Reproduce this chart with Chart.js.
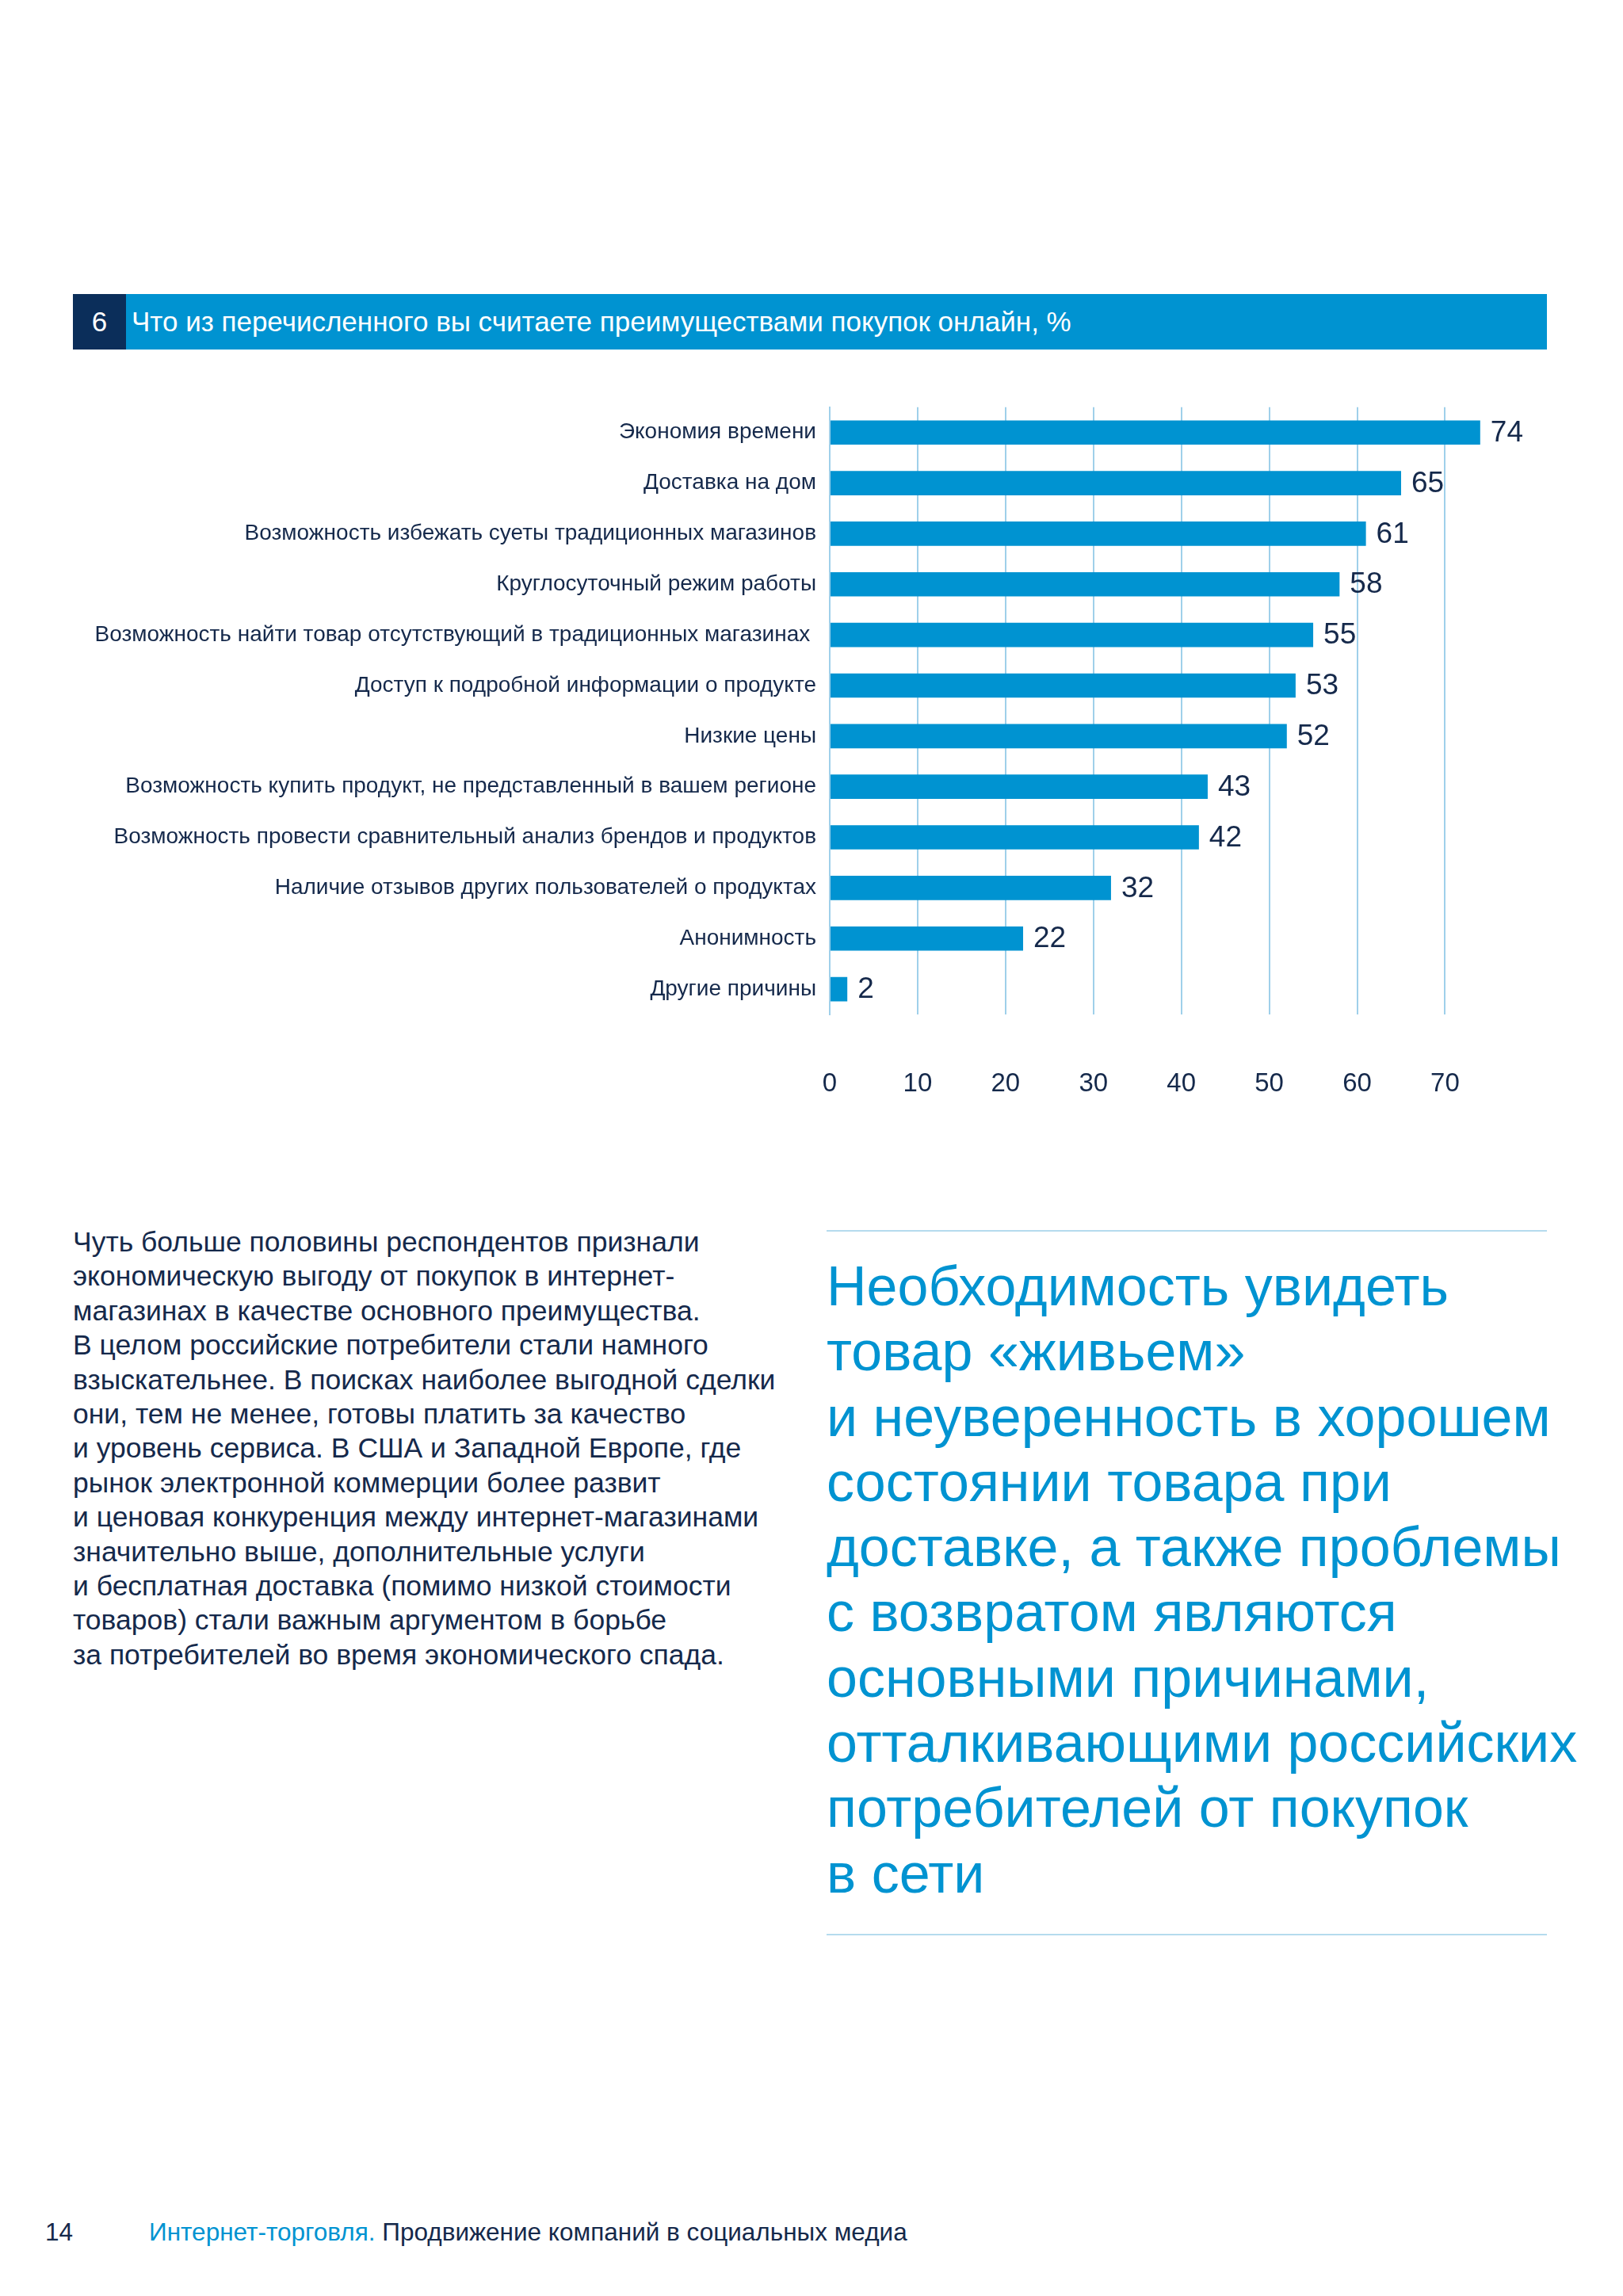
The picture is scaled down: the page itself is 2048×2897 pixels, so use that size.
<!DOCTYPE html>
<html lang="ru">
<head>
<meta charset="utf-8">
<title>Преимущества покупок онлайн</title>
<script src="https://cdn.jsdelivr.net/npm/chart.js@4/dist/chart.umd.min.js"></script>
<style>
    html, body {
        margin: 0;
        padding: 0;
        background: #ffffff;
    }
    body {
        position: relative;
        width: 2048px;
        height: 2897px;
        font-family: "Liberation Sans", Arial, sans-serif;
        color: #15294b;
        overflow: hidden;
    }
    .header {
        position: absolute;
        left: 92px;
        top: 371px;
        width: 1860px;
        height: 70px;
        background: #0093d1;
        color: #ffffff;
        font-size: 35px;
        line-height: 70px;
    }
    .header .num {
        position: absolute;
        left: 0;
        top: 0;
        width: 67px;
        height: 70px;
        background: #0b2e5a;
        text-align: center;
    }
    .header .title {
        position: absolute;
        left: 74px;
        top: 0;
    }
    .chart-box {
        position: absolute;
        left: 92px;
        top: 480px;
        width: 1860px;
        height: 920px;
    }
    .body-text {
        position: absolute;
        left: 92px;
        top: 1546px;
        font-size: 35.5px;
        line-height: 43.4px;
        white-space: nowrap;
    }
    .rule {
        position: absolute;
        left: 1043px;
        width: 909px;
        height: 2px;
        background: #b5dbee;
    }
    .quote {
        position: absolute;
        left: 1043px;
        top: 1582px;
        font-size: 70px;
        line-height: 82.3px;
        color: #0093d1;
        white-space: nowrap;
    }
    .footer {
        position: absolute;
        top: 2797px;
        font-size: 31.5px;
        line-height: 38px;
        white-space: nowrap;
    }
    .footer .blue {
        color: #0093d1;
    }
</style>
</head>
<body>
<div class="header">
    <div class="num">6</div>
    <div class="title">Что из перечисленного вы считаете преимуществами покупок онлайн, %</div>
</div>

<div class="chart-box"><canvas id="advantagesChart"></canvas></div>

<div class="body-text">
Чуть больше половины респондентов признали<br>
экономическую выгоду от покупок в интернет-<br>
магазинах в качестве основного преимущества.<br>
В целом российские потребители стали намного<br>
взыскательнее. В поисках наиболее выгодной сделки<br>
они, тем не менее, готовы платить за качество<br>
и уровень сервиса. В США и Западной Европе, где<br>
рынок электронной коммерции более развит<br>
и ценовая конкуренция между интернет-магазинами<br>
значительно выше, дополнительные услуги<br>
и бесплатная доставка (помимо низкой стоимости<br>
товаров) стали важным аргументом в борьбе<br>
за потребителей во время экономического спада.
</div>

<div class="rule" style="top: 1552px;"></div>
<div class="quote">
Необходимость увидеть<br>
товар «живьем»<br>
и неуверенность в хорошем<br>
состоянии товара при<br>
доставке, а также проблемы<br>
с возвратом являются<br>
основными причинами,<br>
отталкивающими российских<br>
потребителей от покупок<br>
в сети
</div>
<div class="rule" style="top: 2440px;"></div>

<div class="footer" style="left: 57px;">14</div>
<div class="footer" style="left: 188px;"><span class="blue">Интернет-торговля.</span> Продвижение компаний в социальных медиа</div>

<script>
const categories = [
    'Экономия времени',
    'Доставка на дом',
    'Возможность избежать суеты традиционных магазинов',
    'Круглосуточный режим работы',
    'Возможность найти товар отсутствующий в традиционных магазинах ',
    'Доступ к подробной информации о продукте',
    'Низкие цены',
    'Возможность купить продукт, не представленный в вашем регионе',
    'Возможность провести сравнительный анализ брендов и продуктов',
    'Наличие отзывов других пользователей о продуктах',
    'Анонимность',
    'Другие причины'
];
const shares = [74, 65, 61, 58, 55, 53, 52, 43, 42, 32, 22, 2];
const xTicks = [0, 10, 20, 30, 40, 50, 60, 70];

const BLUE = '#0093d1';
const NAVY = '#15294b';
const GRID = '#9fd0ea';
const FONT = '"Liberation Sans", Arial, sans-serif';

// value labels at the end of every bar
const barValues = {
    id: 'barValues',
    afterDatasetsDraw(chart) {
        const ctx = chart.ctx;
        const meta = chart.getDatasetMeta(0);
        ctx.save();
        ctx.font = '37px ' + FONT;
        ctx.fillStyle = NAVY;
        ctx.textAlign = 'left';
        ctx.textBaseline = 'middle';
        meta.data.forEach((bar, i) => {
            ctx.fillText(String(shares[i]), bar.x + 13, bar.y + 1);
        });
        ctx.restore();
    }
};

document.addEventListener('DOMContentLoaded', () => {
    const ctx = document.getElementById('advantagesChart').getContext('2d');
    new Chart(ctx, {
        type: 'bar',
        data: {
            labels: categories,
            datasets: [{
                data: shares,
                backgroundColor: BLUE,
                borderWidth: 0,
                barPercentage: 0.96,
                categoryPercentage: 0.5
            }]
        },
        options: {
            indexAxis: 'y',
            responsive: true,
            maintainAspectRatio: false,
            animation: false,
            layout: {
                padding: { top: 30, right: 62, bottom: 0, left: 0 }
            },
            plugins: {
                legend: { display: false },
                tooltip: { enabled: false }
            },
            scales: {
                x: {
                    min: 0,
                    max: 76,
                    afterBuildTicks: (scale) => {
                        scale.ticks = xTicks.map(v => ({ value: v }));
                    },
                    afterFit: (scale) => {
                        scale.height = 120;
                    },
                    grid: {
                        color: GRID,
                        lineWidth: 2,
                        drawTicks: false
                    },
                    border: { display: false },
                    ticks: {
                        padding: 68,
                        color: NAVY,
                        font: { family: FONT, size: 33 }
                    }
                },
                y: {
                    afterFit: (scale) => {
                        scale.width = 955;
                    },
                    grid: { display: false, drawTicks: false },
                    border: { color: GRID, width: 2 },
                    ticks: {
                        padding: 17,
                        color: NAVY,
                        autoSkip: false,
                        font: { family: FONT, size: 28 }
                    }
                }
            }
        },
        plugins: [barValues]
    });
});
</script>
</body>
</html>
